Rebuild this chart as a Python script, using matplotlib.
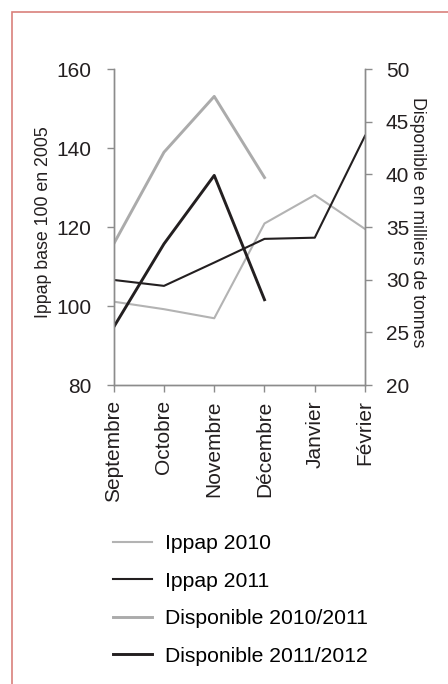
import matplotlib.pyplot as plt
from matplotlib.patches import Rectangle

plt.rcParams['font.family'] = ['Liberation Sans', 'DejaVu Sans']

mois = ["Septembre", "Octobre", "Novembre", "Décembre", "Janvier", "Février"]
ippap_2010 = [101.1, 99.2, 96.9, 120.9, 128.1, 119.5]
ippap_2011 = [106.6, 105.1, 111.0, 117.0, 117.3, 143.1]
dispo_2010_2011 = [33.4, 42.1, 47.4, 39.7]
dispo_2011_2012 = [25.5, 33.4, 39.9, 28.1]

gris = "#b3b3b3"
gris2 = "#ababab"
noir = "#231f20"
axe = "#8c8c8c"

fig = plt.figure(figsize=(4.48, 6.84), dpi=100)
fig.patches.append(Rectangle((12 / 448, -0.1), 1.0, 1 - 12 / 684 + 0.1,
                             transform=fig.transFigure, fill=False,
                             edgecolor="#d9807c", linewidth=1.2))

ax = fig.add_axes([0.2538, 0.4371, 0.561, 0.462])
ax2 = ax.twinx()

x = list(range(len(mois)))
l1, = ax.plot(x, ippap_2010, color=gris, lw=1.5, label="Ippap 2010")
l2, = ax.plot(x, ippap_2011, color=noir, lw=1.5, label="Ippap 2011")
l3, = ax2.plot(x[:4], dispo_2010_2011, color=gris2, lw=2.1, label="Disponible 2010/2011")
l4, = ax2.plot(x[:4], dispo_2011_2012, color=noir, lw=2.1, label="Disponible 2011/2012")

ax.set_xlim(0, 5)
ax.set_ylim(80, 160)
ax.set_yticks([80, 100, 120, 140, 160])
ax2.set_ylim(20, 50)
ax2.set_yticks([20, 25, 30, 35, 40, 45, 50])
ax.set_xticks(x)
ax.set_xticklabels(mois, rotation=90)

for a in (ax, ax2):
    a.spines["top"].set_visible(False)
    for s in ("left", "right", "bottom"):
        a.spines[s].set_color(axe)
        a.spines[s].set_linewidth(1.0)
    a.tick_params(colors=axe, labelcolor="#231f20", labelsize=15, length=5, width=1.0)
ax.tick_params(axis="y", pad=11)
ax2.tick_params(axis="y", pad=10)
ax.tick_params(axis="x", pad=6)

ax.set_ylabel("Ippap base 100 en 2005", fontsize=12.8, color="#231f20")
ax.yaxis.set_label_coords(-0.245, 0.515)
ax2.set_ylabel("Disponible en milliers de tonnes", fontsize=12.8, color="#231f20",
               rotation=270, va="center")
ax2.yaxis.set_label_coords(1.21, 0.515)

fig.legend(handles=[l1, l2, l3, l4], loc="upper left",
           bbox_to_anchor=(113 / 448, 1 - 534 / 684), frameon=False,
           fontsize=15.2, handlelength=1.85, handletextpad=0.62,
           labelspacing=0.88, borderpad=0, borderaxespad=0)

fig.savefig("out.png", dpi=100)
